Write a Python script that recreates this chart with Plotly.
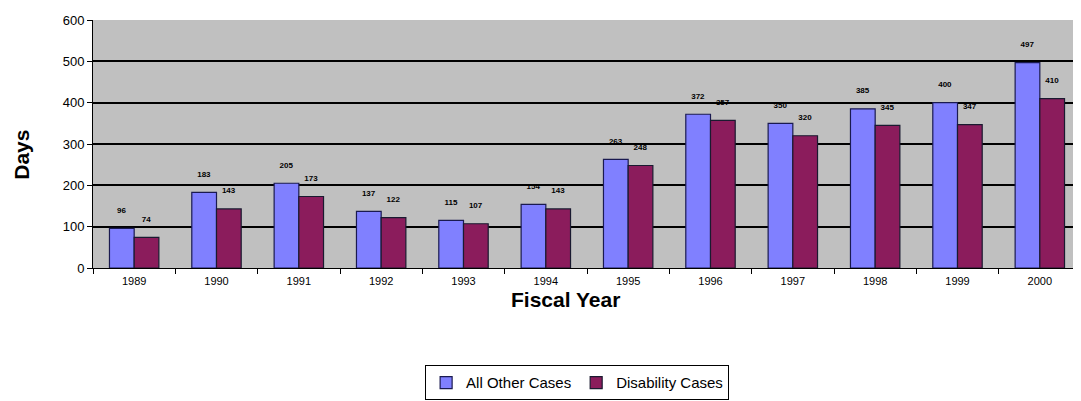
import plotly.graph_objects as go

years = ["1989", "1990", "1991", "1992", "1993", "1994", "1995", "1996", "1997", "1998", "1999", "2000"]
all_other = [96, 183, 205, 137, 115, 154, 263, 372, 350, 385, 400, 497]
disability = [74, 143, 173, 122, 107, 143, 248, 357, 320, 345, 347, 410]
y_ticks = [0, 100, 200, 300, 400, 500, 600]

font = "Liberation Sans, Arial, sans-serif"

fig = go.Figure()
fig.add_trace(go.Bar(
    x=years, y=all_other, name="All Other Cases",
    marker=dict(color="#8080FF", line=dict(color="#1A1A50", width=1.2)),
    texttemplate="<b>%{y}</b><br> ", textposition="outside",
    textfont=dict(size=8, color="black", family=font),
    cliponaxis=False,
))
fig.add_trace(go.Bar(
    x=years, y=disability, name="Disability Cases",
    marker=dict(color="#8B1C5C", line=dict(color="#1A1A30", width=1.2)),
    texttemplate="<b>%{y}</b><br> ", textposition="outside",
    textfont=dict(size=8, color="black", family=font),
    cliponaxis=False,
))

fig.update_layout(
    width=1073, height=393,
    margin=dict(l=85, r=0, t=12, b=133),
    paper_bgcolor="white", plot_bgcolor="#C0C0C0",
    barmode="group", bargap=0.4, bargroupgap=0.0,
    font=dict(family=font, color="black"),
    showlegend=True,
    legend=dict(
        orientation="h", x=0.49, xanchor="center", y=-0.463, yanchor="middle",
        bordercolor="black", borderwidth=1, bgcolor="white",
        font=dict(size=15, family=font), itemwidth=30,
        tracegroupgap=0,
    ),
    uniformtext=dict(minsize=8, mode="show"),
)
fig.update_xaxes(
    type="category", showline=True, linecolor="black", linewidth=1,
    ticks="outside", tickson="boundaries", ticklen=5, tickcolor="black",
    tickfont=dict(size=11, family=font), showgrid=False, ticklabelstandoff=3,
)
fig.update_yaxes(
    range=[0, 600], tickvals=y_ticks, showline=True, linecolor="black", linewidth=1,
    ticks="outside", ticklen=5, tickcolor="black",
    gridcolor="black", gridwidth=1.5, zeroline=False,
    tickfont=dict(size=13, family=font),
)
fig.add_annotation(text="<b>Fiscal Year</b>", xref="paper", yref="paper",
                   x=0.478, y=-0.129, xanchor="center", yanchor="middle",
                   showarrow=False, font=dict(size=21, family=font))
fig.add_annotation(text="<b>Days</b>", xref="paper", yref="paper",
                   x=-0.072, y=0.456, textangle=-90, xanchor="center", yanchor="middle",
                   showarrow=False, font=dict(size=21, family=font))

fig.write_html("out.html")
